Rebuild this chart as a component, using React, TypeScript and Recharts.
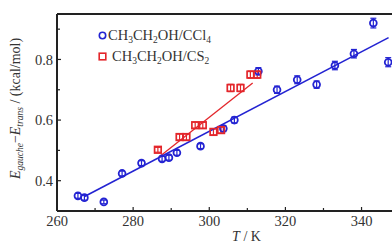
import { ScatterChart, Scatter, XAxis, YAxis, ErrorBar, ReferenceLine, Legend, Label } from "recharts"

// CH3CH2OH / CCl4 (blue circles)
const tBlue = [265.5, 267.2, 272.3, 277.1, 282.2, 287.6, 289.4, 291.5, 297.7, 303.7, 306.6, 312.9, 317.8, 323.1, 328.2, 333.0, 338.0, 343.1, 347.0]
const eBlue = [0.35, 0.344, 0.33, 0.424, 0.458, 0.472, 0.476, 0.492, 0.514, 0.572, 0.6, 0.761, 0.7, 0.733, 0.717, 0.78, 0.819, 0.92, 0.791]
const errBlue = [0.008, 0.008, 0.006, 0.008, 0.008, 0.008, 0.008, 0.008, 0.008, 0.01, 0.01, 0.012, 0.012, 0.013, 0.012, 0.014, 0.014, 0.016, 0.015]

// CH3CH2OH / CS2 (red squares)
const tRed = [286.5, 292.2, 294.0, 296.3, 298.3, 301.1, 303.1, 305.6, 308.2, 310.8, 312.6]
const eRed = [0.502, 0.544, 0.544, 0.583, 0.583, 0.561, 0.567, 0.706, 0.706, 0.75, 0.75]
const errRed = [0.008, 0.01, 0.01, 0.01, 0.01, 0.01, 0.01, 0.012, 0.012, 0.012, 0.012]

// linear fits (end points)
const fitBlueT = [267.1, 347.1]
const fitBlueE = [0.347, 0.872]
const fitRedT = [286.8, 311.4]
const fitRedE = [0.478, 0.722]

const xTicks = [260, 270, 280, 290, 300, 310, 320, 330, 340]
const xLabeled = [260, 280, 300, 320, 340]
const yTicks = [0.4, 0.5, 0.6, 0.7, 0.8, 0.9]
const yLabeled = [0.4, 0.6, 0.8]
const seriesNames = ["CH3CH2OH/CCl4", "CH3CH2OH/CS2"]

const BLUE = "#2323d2"
const RED = "#e3262b"
const INK = "#333"
const AXIS = "#222"
const FONT = "'Liberation Serif', 'DejaVu Serif', serif"
const FS = 14.5

const zip = (t: number[], e: number[], err?: number[]) =>
  t.map((v, i) => ({ t: v, e: e[i], err: err ? err[i] : 0 }))

const blueData = zip(tBlue, eBlue, errBlue)
const redData = zip(tRed, eRed, errRed)
const blueFit = zip(fitBlueT, fitBlueE)
const redFit = zip(fitRedT, fitRedE)

function Chem({ text }: { text: string }) {
  const parts = text.split(/(\d)/)
  return (
    <>
      {parts.map((p, i) =>
        /\d/.test(p) ? (
          <span key={i} style={{ fontSize: 9.5, verticalAlign: -3, lineHeight: 0 }}>{p}</span>
        ) : (
          <span key={i}>{p}</span>
        )
      )}
    </>
  )
}

const circleShape = (p: any) => (
  <circle cx={p.cx} cy={p.cy} r={3.4} fill="none" stroke={BLUE} strokeWidth={1.8} />
)
const squareShape = (p: any) => (
  <rect x={p.cx - 3.3} y={p.cy - 3.3} width={6.6} height={6.6} fill="none" stroke={RED} strokeWidth={1.7} />
)
const noShape = () => <g />

// tickMargin 5 on x, 4 on y: the axis line sits that far from the label anchor
const xTick = (p: any) => {
  const axisY = p.y - 5
  const major = xLabeled.includes(p.payload.value)
  return (
    <g>
      <line x1={p.x} x2={p.x} y1={axisY} y2={axisY - (major ? 4 : 3)} stroke={AXIS} strokeWidth={1.2} />
      {major && (
        <text x={p.x} y={p.y} dy="0.71em" textAnchor="middle" fontFamily={FONT} fontSize={FS} fill={INK}>
          {p.payload.value}
        </text>
      )}
    </g>
  )
}

const yTick = (p: any) => {
  const axisX = p.x + 4
  const major = yLabeled.some((v) => Math.abs(v - p.payload.value) < 1e-6)
  return (
    <g>
      <line x1={axisX} x2={axisX + (major ? 4 : 3)} y1={p.y} y2={p.y} stroke={AXIS} strokeWidth={1.2} />
      {major && (
        <text x={p.x} y={p.y} dy="0.35em" textAnchor="end" fontFamily={FONT} fontSize={FS} fill={INK}>
          {p.payload.value.toFixed(1)}
        </text>
      )}
    </g>
  )
}

const yTitle = (p: any) => {
  const vb = p.viewBox
  const cx = vb.x + 20
  const cy = vb.y + vb.height / 2 - 4
  return (
    <text
      x={cx}
      y={cy}
      transform={`rotate(-90, ${cx}, ${cy})`}
      textAnchor="middle"
      fontFamily={FONT}
      fontSize={14}
      fill={INK}
    >
      <tspan fontStyle="italic">E</tspan>
      <tspan fontStyle="italic" fontSize={9.5} dy={3}>gauche</tspan>
      <tspan dy={-3}>−</tspan>
      <tspan fontStyle="italic">E</tspan>
      <tspan fontStyle="italic" fontSize={9.5} dy={3}>trans</tspan>
      <tspan dy={-3}> / (kcal/mol)</tspan>
    </text>
  )
}

const xTitle = (p: any) => {
  const vb = p.viewBox
  return (
    <text x={vb.x + vb.width / 2 + 22} y={vb.y + 30} textAnchor="middle" fontFamily={FONT} fontSize={14} fill={INK}>
      <tspan fontStyle="italic">T</tspan> / K
    </text>
  )
}

const legendContent = () => (
  <div style={{ fontFamily: FONT, fontSize: FS, color: INK, lineHeight: "21px" }}>
    <div style={{ display: "flex", alignItems: "center" }}>
      <svg width={9} height={9} style={{ marginRight: 1 }}>
        <circle cx={4.5} cy={4.5} r={3.2} fill="none" stroke={BLUE} strokeWidth={1.6} />
      </svg>
      <span><Chem text={seriesNames[0]} /></span>
    </div>
    <div style={{ display: "flex", alignItems: "center" }}>
      <svg width={9} height={9} style={{ marginRight: 5 }}>
        <rect x={1.2} y={1.2} width={6.6} height={6.6} fill="none" stroke={RED} strokeWidth={1.6} />
      </svg>
      <span><Chem text={seriesNames[1]} /></span>
    </div>
  </div>
)

export default function App() {
  return (
    <div style={{ position: "absolute", left: 0, top: 0, width: 392, height: 244, background: "#fff" }}>
      <ScatterChart width={392} height={244} margin={{ top: 14, right: 0, bottom: 0, left: 0 }}>
        <XAxis
          type="number"
          dataKey="t"
          domain={[260, 348]}
          ticks={xTicks}
          allowDataOverflow
          height={33}
          axisLine={{ stroke: AXIS, strokeWidth: 2 }}
          tickLine={false}
          tickSize={0}
          tickMargin={5}
          tick={xTick}
        >
          <Label content={xTitle} />
        </XAxis>
        <YAxis
          type="number"
          dataKey="e"
          domain={[0.3, 0.95]}
          ticks={yTicks}
          allowDataOverflow
          width={57}
          axisLine={{ stroke: AXIS, strokeWidth: 2 }}
          tickLine={false}
          tickSize={0}
          tickMargin={4}
          tick={yTick}
        >
          <Label content={yTitle} />
        </YAxis>
        <ReferenceLine y={0.95} stroke={AXIS} strokeWidth={2} />
        <Legend layout="vertical" align="center" verticalAlign="middle" content={legendContent}
          wrapperStyle={{ position: "absolute", left: 98, top: 25, width: 220 }} />
        <Scatter data={blueFit} line={{ stroke: BLUE, strokeWidth: 1.6 }} shape={noShape} isAnimationActive={false} legendType="none" />
        <Scatter data={redFit} line={{ stroke: RED, strokeWidth: 1.3 }} shape={noShape} isAnimationActive={false} legendType="none" />
        <Scatter data={blueData} shape={circleShape} isAnimationActive={false}>
          <ErrorBar dataKey="err" direction="y" width={3} stroke={BLUE} strokeWidth={1.2} />
        </Scatter>
        <Scatter data={redData} shape={squareShape} isAnimationActive={false}>
          <ErrorBar dataKey="err" direction="y" width={3} stroke={RED} strokeWidth={1.2} />
        </Scatter>
      </ScatterChart>
    </div>
  )
}
